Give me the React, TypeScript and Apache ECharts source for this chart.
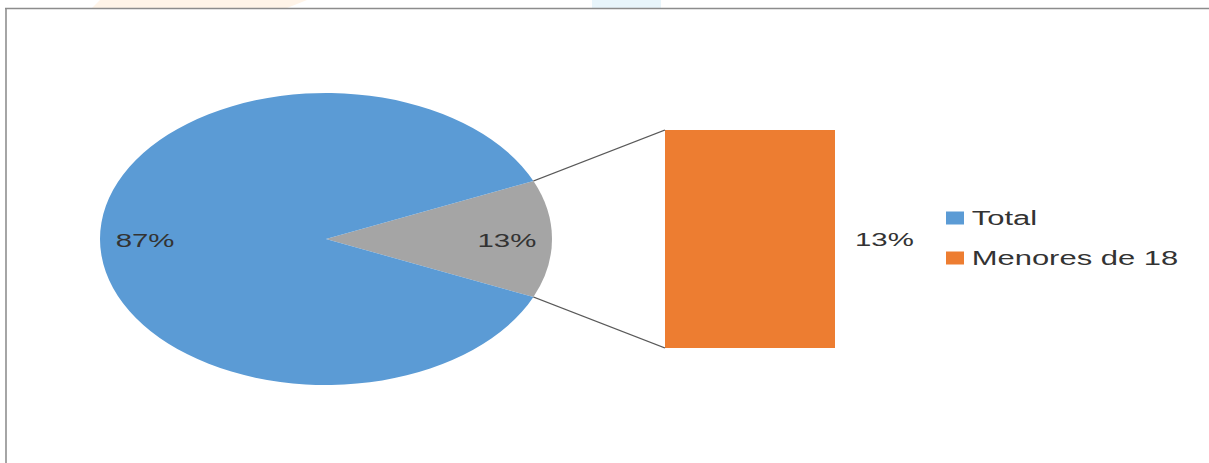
import React, { useEffect, useRef } from "react";
import * as echarts from "echarts";

// ---- data ----
const categories: string[] = ["Total", "Menores de 18"];
const shares: number[] = [87, 13];
const otherSliceName = "Otro";
const percentSuffix = "%";

// ---- layout (the reference is stretched horizontally) ----
const STRETCH = 1.548;
const FULL_W = 1209;
const FULL_H = 463;
const W = FULL_W / STRETCH;
const sx = (x: number) => x / STRETCH;

const PIE_CX = sx(326);
const PIE_CY = 239;
const PIE_R = 146;

const COLORS = { total: "#5B9BD5", other: "#A5A5A5", bar: "#ED7D31" };
const TEXT = "#333333";
const FONT = "'Liberation Sans', Arial, sans-serif";

export default function App() {
  const ref = useRef<HTMLDivElement>(null);

  useEffect(() => {
    if (!ref.current) return;
    const chart = echarts.init(ref.current, undefined, { renderer: "svg" });

    const primaryName = categories[0];
    const primaryValue = shares[0];
    const secondaryNames = categories.slice(1);
    const secondaryValues = shares.slice(1);
    const otherValue = secondaryValues.reduce((a, b) => a + b, 0);
    const total = primaryValue + otherValue;
    const halfAngleDeg = (otherValue / total) * 360 / 2;
    const halfAngle = (halfAngleDeg * Math.PI) / 180;

    const pieData = [
      { name: otherSliceName, value: otherValue, itemStyle: { color: COLORS.other } },
      { name: primaryName, value: primaryValue, itemStyle: { color: COLORS.total } },
    ];

    chart.setOption({
      animation: false,
      backgroundColor: "#ffffff",
      textStyle: { fontFamily: FONT },
      graphic: [
        {
          type: "polygon",
          silent: true,
          shape: { points: [[sx(100), 0], [sx(307), 0], [sx(287), 8], [sx(92), 8]] },
          style: { fill: "#fff4e8" },
        },
        {
          type: "rect",
          silent: true,
          shape: { x: sx(592), y: 0, width: sx(69), height: 8 },
          style: { fill: "#e8f5fb" },
        },
        {
          type: "line",
          silent: true,
          shape: { x1: sx(5), y1: 8.5, x2: W, y2: 8.5 },
          style: { stroke: "#8c8c8c", lineWidth: 1.5 },
        },
        {
          type: "line",
          silent: true,
          shape: { x1: sx(6), y1: 8, x2: sx(6), y2: FULL_H },
          style: { stroke: "#8c8c8c", lineWidth: 1 },
        },
      ],
      legend: {
        orient: "vertical",
        left: sx(946),
        top: 208,
        padding: 0,
        itemGap: 20,
        itemWidth: sx(18),
        itemHeight: 13,
        icon: "rect",
        selectedMode: false,
        data: [primaryName, ...secondaryNames],
        textStyle: { color: TEXT, fontSize: 20, lineHeight: 20, fontFamily: FONT },
      },
      grid: {
        left: sx(665),
        top: 130,
        width: sx(835) - sx(665),
        height: 348 - 130,
        containLabel: false,
      },
      xAxis: { type: "category", data: secondaryNames, show: false },
      yAxis: { type: "value", min: 0, max: otherValue, show: false },
      series: [
        {
          type: "pie",
          name: "pie",
          center: [PIE_CX, PIE_CY],
          radius: [0, PIE_R],
          startAngle: halfAngleDeg,
          clockwise: true,
          silent: true,
          label: { show: false },
          labelLine: { show: false },
          itemStyle: { borderWidth: 0 },
          data: pieData,
        },
        {
          type: "pie",
          name: "pie-labels",
          center: [PIE_CX, PIE_CY + 1],
          radius: [PIE_R * 0.56, PIE_R],
          startAngle: halfAngleDeg,
          clockwise: true,
          silent: true,
          itemStyle: { color: "rgba(0,0,0,0)", borderWidth: 0 },
          label: {
            show: true,
            position: "inside",
            formatter: (p: any) => `${p.value}${percentSuffix}`,
            color: TEXT,
            fontSize: 19,
            fontFamily: FONT,
          },
          labelLine: { show: false },
          data: pieData.map((d) => ({ name: "lbl-" + d.name, value: d.value })),
        },
        ...secondaryNames.map((name, i) => ({
          type: "bar",
          name,
          stack: "secondary",
          barWidth: "100%",
          silent: true,
          itemStyle: { color: COLORS.bar },
          label: {
            show: true,
            position: "right",
            distance: sx(20),
            formatter: (p: any) => `${p.value}${percentSuffix}`,
            color: TEXT,
            fontSize: 19,
            fontFamily: FONT,
          },
          data: [secondaryValues[i]],
        })),
        {
          type: "custom",
          name: "connectors",
          coordinateSystem: "cartesian2d",
          silent: true,
          z: 3,
          data: [[0, otherValue]],
          renderItem: (_params: any, api: any) => {
            const top = api.coord([api.value(0), api.value(1)]);
            const bottom = api.coord([api.value(0), 0]);
            const half = api.size([1, 0])[0] / 2;
            const x = top[0] - half;
            const px = PIE_CX + PIE_R * Math.cos(halfAngle);
            const pyTop = PIE_CY - PIE_R * Math.sin(halfAngle);
            const pyBot = PIE_CY + PIE_R * Math.sin(halfAngle);
            const style = { stroke: "#595959", lineWidth: 1 };
            return {
              type: "group",
              children: [
                { type: "line", shape: { x1: px, y1: pyTop, x2: x, y2: top[1] }, style },
                { type: "line", shape: { x1: px, y1: pyBot, x2: x, y2: bottom[1] }, style },
              ],
            };
          },
        },
      ],
    });

    return () => chart.dispose();
  }, []);

  return (
    <div
      ref={ref}
      style={{
        position: "fixed",
        left: 0,
        top: 0,
        width: W,
        height: FULL_H,
        transform: `scaleX(${STRETCH})`,
        transformOrigin: "0 0",
      }}
    />
  );
}
